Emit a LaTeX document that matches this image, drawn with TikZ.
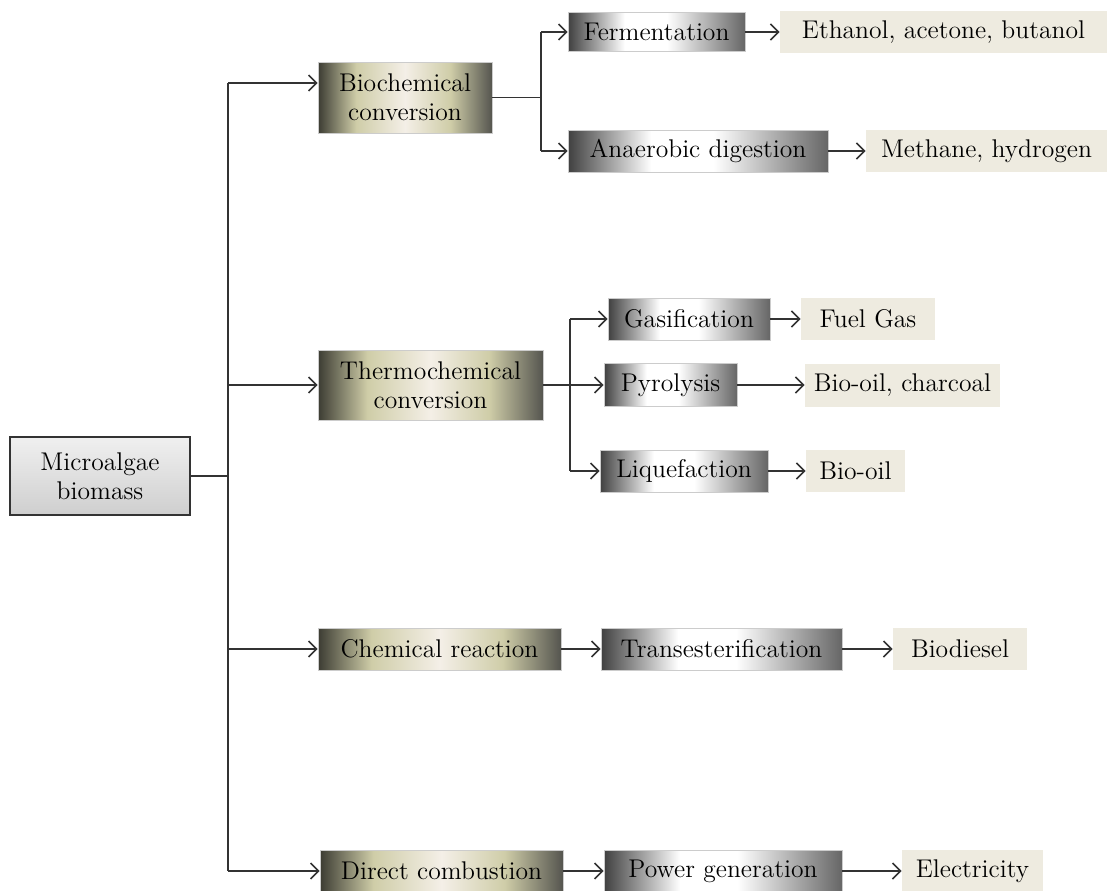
\documentclass[tikz,border=0pt]{standalone}
\usepackage{tikz}
\usetikzlibrary{positioning}
\usetikzlibrary{calc,arrows.meta}

\definecolor{lineGrey}{HTML}{333333}
\definecolor{prodBeige}{HTML}{EEEBE0}
\definecolor{oliveDark}{HTML}{3C3C33}
\definecolor{oliveLight}{HTML}{CFCDA8}
\definecolor{oliveCream}{HTML}{F4EFE7}
\definecolor{oliveRight}{HTML}{55554F}
\definecolor{greyDark}{HTML}{404040}
\definecolor{greyRight}{HTML}{666666}

% level one: olive - cream - olive
\pgfdeclarehorizontalshading{routeshade}{100bp}{%
	color(0bp)=(oliveDark); color(25bp)=(oliveDark);
	color(36bp)=(oliveLight); color(50bp)=(oliveCream);
	color(63bp)=(oliveLight); color(75bp)=(oliveRight); color(100bp)=(oliveRight)}
% level two: grey - white - grey
\pgfdeclarehorizontalshading{processshade}{100bp}{%
	color(0bp)=(greyDark); color(25bp)=(greyDark);
	color(41bp)=(white); color(53bp)=(white);
	color(75bp)=(greyRight); color(100bp)=(greyRight)}

\tikzset{
	txt/.style={font=\fontsize{12.8}{14.5}\selectfont, text=black, align=center, inner sep=0pt},
	source/.style={txt, draw=lineGrey, line width=0.8pt, top color=gray!12, bottom color=gray!38},
	route/.style={txt, shading=routeshade, draw=gray!40, line width=0.3pt},
	process/.style={txt, shading=processshade, draw=gray!40, line width=0.3pt},
	product/.style={txt, fill=prodBeige},
	link/.style={draw=lineGrey, line width=0.8pt},
	arr/.style={link, -{Straight Barb[length=4pt, width=8pt]}},
}

\begin{document}
\begin{tikzpicture}[x=0.5pt, y=-0.5pt]

	% ------------------------------------------------
	% Ensure the dimensions of graphic are appropriate
	\useasboundingbox (0,0) rectangle (1107,890);

	% ------------------------------------------------
	% Relevant coordinates
	\coordinate (TrunkTop) at (228,83);
	\coordinate (TrunkBot) at (228,871);
	\coordinate (JBio)     at (541,0);
	\coordinate (JThermo)  at (570,0);

	% ----------------
	% Source
	\node[source, minimum width=90pt, minimum height=39pt] (Biomass) at (100,476) {Microalgae\\biomass};

	% ----------------
	% Conversion routes
	\node[route, minimum width=87pt,   minimum height=35.5pt] (Biochem) at (405,97.5)  {Biochemical\\conversion};
	\node[route, minimum width=112.5pt, minimum height=35pt]  (Thermo)  at (430.5,385) {Thermochemical\\conversion};
	\node[route, minimum width=121.5pt, minimum height=21pt]  (Chem)    at (439.5,649) {Chemical reaction};
	\node[route, minimum width=121.5pt, minimum height=21pt]  (Direct)  at (441.5,871) {Direct combustion};

	% ----------------
	% Processes
	\node[process, minimum width=88.5pt, minimum height=19.5pt] (Ferment) at (656.5,32)  {Fermentation};
	\node[process, minimum width=130pt,  minimum height=21pt]   (Anaer)   at (698,151)   {Anaerobic digestion};
	\node[process, minimum width=81pt,   minimum height=21pt]   (Gasif)   at (689,319)   {Gasification};
	\node[process, minimum width=66.5pt, minimum height=21.5pt] (Pyro)    at (670.5,385) {Pyrolysis};
	\node[process, minimum width=84pt,   minimum height=21pt]   (Lique)   at (684,471)   {Liquefaction};
	\node[process, minimum width=120.5pt, minimum height=21pt]  (Trans)   at (721.5,649) {Transesterification};
	\node[process, minimum width=119pt,  minimum height=21pt]   (Power)   at (723,871)   {Power generation};

	% ----------------
	% Products
	\node[product, minimum width=163.5pt, minimum height=21pt] (Ethanol)  at (943.5,32)  {Ethanol, acetone, butanol};
	\node[product, minimum width=120.5pt, minimum height=21pt] (Methane)  at (986.5,151) {Methane, hydrogen};
	\node[product, minimum width=67pt,    minimum height=21pt] (FuelGas)  at (868,319)   {Fuel Gas};
	\node[product, minimum width=97.5pt,  minimum height=21.5pt] (OilChar) at (902.5,385) {Bio-oil, charcoal};
	\node[product, minimum width=49.5pt,  minimum height=21pt] (BioOil)   at (855.5,471) {Bio-oil};
	\node[product, minimum width=67pt,    minimum height=21pt] (Diesel)   at (960,649)   {Biodiesel};
	\node[product, minimum width=70.5pt,  minimum height=21pt] (Electric) at (972.5,871) {Electricity};

	%%%%%%%%%%%%%%%%%%%%%%%%%%%%%%%%%%%%%%%%%
	% Trunk
	\draw[link] (TrunkTop) -- (TrunkBot);
	\draw[link] (Biomass) -- (Biomass -| TrunkTop);

	\draw[arr] (TrunkTop) -- (TrunkTop -| Biochem.west);
	\draw[arr] (TrunkTop |- Thermo) -- (Thermo);
	\draw[arr] (TrunkTop |- Chem) -- (Chem);
	\draw[arr] (TrunkBot) -- (Direct);

	% Biochemical branch
	\draw[link] (Biochem) -- (Biochem -| JBio);
	\draw[link] (JBio |- Ferment) -- (JBio |- Anaer);
	\draw[arr] (JBio |- Ferment) -- (Ferment);
	\draw[arr] (JBio |- Anaer) -- (Anaer);

	% Thermochemical branch
	\draw[arr] (Thermo) -- (Pyro);
	\draw[link] (JThermo |- Gasif) -- (JThermo |- Lique);
	\draw[arr] (JThermo |- Gasif) -- (Gasif);
	\draw[arr] (JThermo |- Lique) -- (Lique);

	% Processes to products
	\draw[arr] (Ferment) -- (Ethanol);
	\draw[arr] (Anaer) -- (Methane);
	\draw[arr] (Gasif) -- (FuelGas);
	\draw[arr] (Pyro) -- (OilChar);
	\draw[arr] (Lique) -- (BioOil);
	\draw[arr] (Chem) -- (Trans);
	\draw[arr] (Trans) -- (Diesel);
	\draw[arr] (Direct) -- (Power);
	\draw[arr] (Power) -- (Electric);

\end{tikzpicture}
\end{document}
